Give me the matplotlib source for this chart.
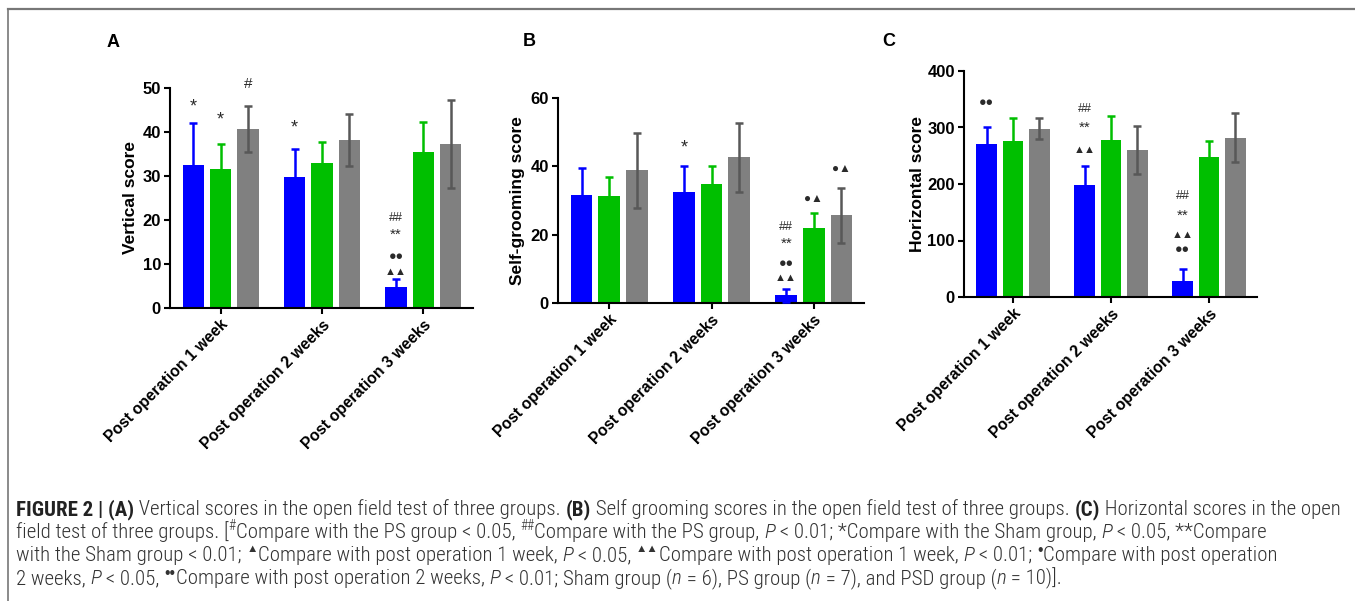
import matplotlib
matplotlib.use("Agg")
import matplotlib.pyplot as plt
from matplotlib import font_manager
from matplotlib.lines import Line2D
import numpy as np

# ---------------- data ----------------
groups = ["Post operation 1 week", "Post operation 2 weeks", "Post operation 3 weeks"]
series_names = ["PSD", "PS", "Sham"]

A_blue = [32.5, 29.8, 4.7]
A_green = [31.7, 32.9, 35.5]
A_gray = [40.7, 38.2, 37.2]
A_blue_err = [9.5, 6.3, 1.9]
A_green_err = [5.6, 4.8, 6.7]
A_gray_err = [5.2, 6.0, 10.0]

B_blue = [31.5, 32.5, 2.2]
B_green = [31.3, 34.7, 22.0]
B_gray = [38.9, 42.6, 25.7]
B_blue_err = [8.0, 7.5, 1.9]
B_green_err = [5.6, 5.3, 4.4]
B_gray_err = [11.0, 10.0, 8.0]

C_blue = [271, 198, 28]
C_green = [276, 277, 248]
C_gray = [298, 260, 282]
C_blue_err = [30, 33, 22]
C_green_err = [41, 43, 28]
C_gray_err = [18, 43, 43]

A_ticks = [0, 10, 20, 30, 40, 50]
B_ticks = [0, 20, 40, 60]
C_ticks = [0, 100, 200, 300, 400]

# (group, bar, y, text)
A_marks = [(0, 0, 46.6, "*"), (0, 1, 43.5, "*"), (0, 2, 50.8, "#"), (1, 0, 41.8, "*"),
           (2, 0, 20.5, "##"), (2, 0, 17.3, "**"), (2, 0, 11.7, "●●"), (2, 0, 8.1, "▲▲")]
B_marks = [(1, 0, 46.4, "*"), (2, 0, 22.2, "##"), (2, 0, 18.3, "**"), (2, 0, 11.5, "●●"),
           (2, 0, 7.3, "▲▲"), (2, 1, 30.5, "●▲"), (2, 2, 39.1, "●▲")]
C_marks = [(0, 0, 343, "●●"), (1, 0, 333, "##"), (1, 0, 305, "**"), (1, 0, 261, "▲▲"),
           (2, 0, 179, "##"), (2, 0, 149, "**"), (2, 0, 109, "▲▲"), (2, 0, 83, "●●")]

caption_lines = [
    [("FIGURE 2 | (A)", "b"), (" Vertical scores in the open field test of three groups. ", "n"),
     ("(B)", "b"), (" Self grooming scores in the open field test of three groups. ", "n"),
     ("(C)", "b"), (" Horizontal scores in the open", "n")],
    [("field test of three groups. [", "n"), ("#", "s"), ("Compare with the PS group < 0.05, ", "n"),
     ("##", "s"), ("Compare with the PS group, ", "n"), ("P", "i"), (" < 0.01; *Compare with the Sham group, ", "n"),
     ("P", "i"), (" < 0.05, **Compare", "n")],
    [("with the Sham group < 0.01; ", "n"), ("▲", "t"), ("Compare with post operation 1 week, ", "n"),
     ("P", "i"), (" < 0.05, ", "n"), ("▲▲", "t"), ("Compare with post operation 1 week, ", "n"),
     ("P", "i"), (" < 0.01; ", "n"), ("•", "d"), ("Compare with post operation", "n")],
    [("2 weeks, ", "n"), ("P", "i"), (" < 0.05, ", "n"), ("••", "d"),
     ("Compare with post operation 2 weeks, ", "n"), ("P", "i"), (" < 0.01; Sham group (", "n"),
     ("n", "i"), (" = 6), PS group (", "n"), ("n", "i"), (" = 7), and PSD group (", "n"),
     ("n", "i"), (" = 10)].", "n")],
]

# ---------------- style ----------------
W, H, DPI = 1355, 601, 100
BLUE, GREEN, GRAY = "#0000ff", "#00bf00", "#808080"
GRAY_ERR = "#585858"
MARK_COLOR = "#2a2a2a"
FONT = ["Liberation Sans", "DejaVu Sans"]

plt.rcParams["font.family"] = FONT
plt.rcParams["axes.linewidth"] = 1.5

fig = plt.figure(figsize=(W / DPI, H / DPI), dpi=DPI)


def px_axes(left, right, y0, ytop):
    return fig.add_axes([left / W, 1 - y0 / H, (right - left) / W, (y0 - ytop) / H])


panels = [
    dict(box=(170, 473, 308, 88), data=(A_blue, A_green, A_gray),
         err=(A_blue_err, A_green_err, A_gray_err), ticks=A_ticks, marks=A_marks,
         ylabel="Vertical score", lx=-0.106, letter="A", lpos=(107, 47)),
    dict(box=(558, 864, 303, 98), data=(B_blue, B_green, B_gray),
         err=(B_blue_err, B_green_err, B_gray_err), ticks=B_ticks, marks=B_marks,
         ylabel="Self-grooming score", lx=-0.108, letter="B", lpos=(523, 46)),
    dict(box=(964, 1257, 297, 71), data=(C_blue, C_green, C_gray),
         err=(C_blue_err, C_green_err, C_gray_err), ticks=C_ticks, marks=C_marks,
         ylabel="Horizontal score", lx=-0.133, letter="C", lpos=(882, 46)),
]

# font size and vertical shift (points) for each mark string
mark_style = {"*": (13, -2.6), "**": (11, -2.2), "#": (11, 0), "##": (9, 0),
              "●●": (9, 0), "▲▲": (8, 0), "●▲": (8.5, 0)}

pitch, bw = 0.27, 0.21
x = np.arange(len(groups))
colors = [BLUE, GREEN, GRAY]
ecolors = [BLUE, GREEN, GRAY_ERR]

for p in panels:
    ax = px_axes(*p["box"])
    for i, (vals, errs) in enumerate(zip(p["data"], p["err"])):
        xs = x + (i - 1) * pitch
        ax.bar(xs, vals, width=bw, color=colors[i], zorder=2, label=series_names[i])
        ax.errorbar(xs, vals, yerr=errs, fmt="none", ecolor=ecolors[i], elinewidth=1.8,
                    capsize=3.2, capthick=1.8, zorder=3)
    for g, b, yv, t in p["marks"]:
        fs, dy = mark_style[t]
        ax.annotate(t, xy=(x[g] + (b - 1) * pitch, yv), xytext=(0, dy), textcoords="offset points",
                    ha="center", va="center", fontsize=fs, color=MARK_COLOR,
                    family=FONT, annotation_clip=False)
    ax.set_xlim(-0.5, 2.49)
    ax.set_ylim(0, p["ticks"][-1])
    ax.set_yticks(p["ticks"])
    ax.set_xticks(x)
    ax.set_xticklabels(groups, rotation=45, ha="right", va="top", rotation_mode="anchor",
                       fontsize=11.3, fontweight="bold")
    for lab in ax.get_yticklabels():
        lab.set_fontweight("bold")
        lab.set_fontsize(12)
    ax.tick_params(axis="both", width=1.5, length=4.5, direction="out", pad=2)
    ax.spines["top"].set_visible(False)
    ax.spines["right"].set_visible(False)
    ax.set_ylabel(p["ylabel"], fontsize=12.5, fontweight="bold")
    ax.yaxis.set_label_coords(p["lx"], 0.5)
    fig.text(p["lpos"][0] / W, 1 - p["lpos"][1] / H, p["letter"], fontsize=13,
             fontweight="bold", ha="left", va="baseline")

# border lines (top and left)
fig.add_artist(Line2D([8 / W, 1.0], [1 - 9 / H, 1 - 9 / H], transform=fig.transFigure,
                      color="#777777", lw=1.6))
fig.add_artist(Line2D([8 / W, 8 / W], [1 - 9 / H, 0.0], transform=fig.transFigure,
                      color="#777777", lw=1.2))

# ---------------- caption ----------------
names = {f.name for f in font_manager.fontManager.ttflist}
cap_font = None
for cand in ["Liberation Sans Narrow", "Roboto Condensed", "Open Sans Condensed", "Roboto", "Liberation Sans"]:
    if cand in names:
        cap_font = cand
        break
CAP_FAM = [cap_font, "DejaVu Sans"]
SYM_FAM = ["Liberation Sans", "DejaVu Sans"]
CAP_COLOR = "#333333"

renderer = fig.canvas.get_renderer()


def style_kw(style, size):
    kw = dict(fontsize=size, family=CAP_FAM, color=CAP_COLOR, fontweight="light")
    if style == "b":
        kw["fontweight"] = "bold"
        kw["color"] = "#222222"
    if style == "i":
        kw["fontstyle"] = "italic"
    if style == "s":
        kw["fontsize"] = size * 0.65
    if style == "t":
        kw["fontsize"] = size * 0.55
        kw["family"] = SYM_FAM
        kw["fontweight"] = "normal"
    if style == "d":
        kw["fontsize"] = size * 0.75
        kw["family"] = SYM_FAM
        kw["fontweight"] = "normal"
    return kw


def measure(s, kw):
    t1 = fig.text(0, 0, "|" + s + "|", **kw)
    t2 = fig.text(0, 0, "||", **kw)
    w = t1.get_window_extent(renderer).width - t2.get_window_extent(renderer).width
    t1.remove()
    t2.remove()
    return w


def line_width(runs, size):
    return sum(measure(s, style_kw(st, size)) for s, st in runs)


base = 10.0
target = 1342 - 16
size = base * target / line_width(caption_lines[0], base)

rise = {"s": 0.38, "t": 0.42, "d": 0.30}
baselines = [515, 538, 561, 584]
for runs, yb in zip(caption_lines, baselines):
    xp = 16.0
    for s, st in runs:
        kw = style_kw(st, size)
        dy = size * rise.get(st, 0.0) * DPI / 72
        fig.text(xp / W, 1 - (yb - dy) / H, s, ha="left", va="baseline", **kw)
        xp += measure(s, kw)

fig.savefig("out.png", dpi=DPI)
